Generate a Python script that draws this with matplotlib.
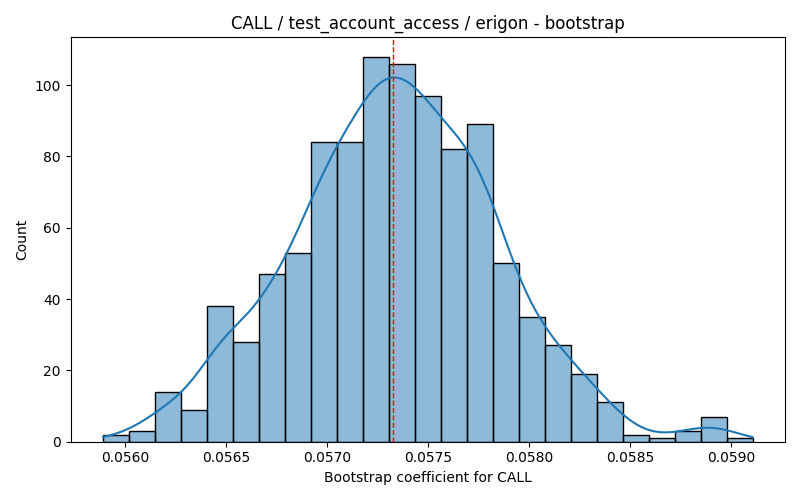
import numpy as np
import matplotlib
matplotlib.use("Agg")
import matplotlib.pyplot as plt

# histogram (25 bins)
bin_lo = 0.05589
bin_hi = 0.059106
counts = [2, 3, 14, 9, 38, 28, 47, 53, 84, 84, 108, 106, 97, 82, 89,
          50, 35, 27, 19, 11, 2, 1, 3, 7, 1]
mean_value = 0.057328

title = "CALL / test_account_access / erigon - bootstrap"
xlabel = "Bootstrap coefficient for CALL"
ylabel = "Count"

edges = np.linspace(bin_lo, bin_hi, len(counts) + 1)
centers = (edges[:-1] + edges[1:]) / 2
width = edges[1] - edges[0]
counts = np.array(counts, dtype=float)

fig, ax = plt.subplots(figsize=(8, 5), dpi=100)
ax.bar(edges[:-1], counts, width=width, align="edge",
       color=(0.1216, 0.4667, 0.7059, 0.5), edgecolor="black", linewidth=1)

# kde from weighted bin centres (scott bandwidth, n = total count)
n = counts.sum()
mu = np.sum(centers * counts) / n
sd = np.sqrt(np.sum(counts * (centers - mu) ** 2) / n)
bw = sd * n ** (-0.2)
grid = np.linspace(edges[0], edges[-1], 300)
dens = np.sum(counts[:, None] * np.exp(-0.5 * ((grid[None, :] - centers[:, None]) / bw) ** 2),
              axis=0) / (n * bw * np.sqrt(2 * np.pi))
ax.plot(grid, dens * n * width, color="C0", lw=1.5)

ax.axvline(mean_value, color="red", linestyle="--", linewidth=1)
ax.set_title(title)
ax.set_xlabel(xlabel)
ax.set_ylabel(ylabel)
plt.tight_layout()
plt.savefig("out.png")
